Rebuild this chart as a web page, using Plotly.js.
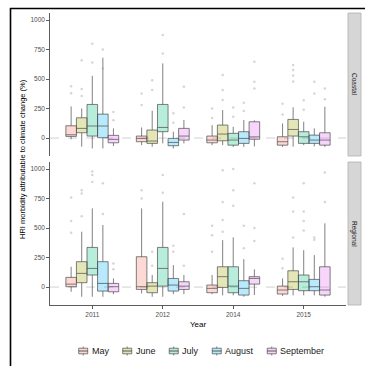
<!DOCTYPE html>
<html>
<head>
<meta charset="utf-8">
<script src="https://cdn.plot.ly/plotly-3.0.1.min.js"></script>
<style>html,body{margin:0;padding:0;background:#fff;}#chart{width:365px;height:366px;}</style>
</head>
<body>
<div id="chart"></div>
<script>
// ---- data ----
const years = ['2011', '2012', '2014', '2015'];
const months = ['May', 'June', 'July', 'August', 'September'];
const panels = ['Coastal', 'Regional'];
const monthFill = ['rgba(248,118,109,0.28)', 'rgba(163,165,0,0.28)', 'rgba(0,191,125,0.28)', 'rgba(0,176,246,0.28)', 'rgba(231,107,243,0.28)'];

// Coastal: rows = months, cols = years
const coastalLow  = [[-10,-60,-60,-75],[-73,-73,-60,-73],[-88,-45,-75,-60],[-88,-88,-75,-70],[-68,-45,-70,-75]];
const coastalQ1   = [[14,-31,-40,-60],[45,-45,-23,17],[17,54,-60,-45],[3,-65,-45,-45],[-40,-17,-10,-60]];
const coastalMed  = [[28,-3,-17,-31],[82,-25,34,73],[102,90,-17,11],[102,-37,-3,-17],[-11,17,10,-17]];
const coastalQ3   = [[104,17,17,11],[172,68,110,158],[285,285,40,54],[203,-3,54,25],[23,82,138,45]];
const coastalHigh = [[268,90,110,124],[251,232,237,260],[528,633,96,138],[681,54,153,82],[82,153,150,265]];
const coastalOut  = [
  [[380,440],[280,378],[170,250],[200,290]],
  [[356,415,660],[407,490],[322,407,534],[480,530,576,620]],
  [[640,800],[717,873],[180,260],[240,320]],
  [[590,750],[130,210],[230,300],[378,477]],
  [[150,220],[260,435],[421,477,647],[330,420]]
];

// Regional
const regionalLow  = [[-40,-54,-60,-75],[-82,-82,-70,-70],[-82,-82,-70,-70],[-82,-60,-82,-70],[-60,-60,-68,-82]];
const regionalQ1   = [[3,-20,-48,-59],[37,-48,-3,-20],[102,8,-48,-31],[-34,-34,-68,-31],[-40,-20,25,-68]];
const regionalMed  = [[25,3,-11,-25],[116,8,88,45],[158,158,8,45],[31,17,-11,3],[3,8,73,-25]];
const regionalQ3   = [[82,257,17,8],[215,37,172,138],[336,336,172,102],[215,73,54,65],[31,45,88,172]];
const regionalHigh = [[172,667,102,73],[469,102,398,336],[667,723,421,313],[526,186,237,271],[73,102,150,540]];
const regionalOut  = [
  [[460,560,760],[750,820],[300,440,520],[160,240]],
  [[600,794,820],[180,300],[468,568,720,990],[420,640,760]],
  [[890,950,980],[800,950],[690,820,1000],[480,560,640,880]],
  [[620,880],[300,350],[330,520],[400,420]],
  [[150,200],[180,620],[390,500,880],[720,970]]
];

const yTicks = [0, 250, 500, 750, 1000];

// ---- layout geometry ----
const W = 365, H = 366, ML = 50, MR = 19, MT = 13, MB = 61;
const PW = W - ML - MR, PH = H - MT - MB;
const px = v => (v - ML) / PW;
const py = v => (MT + PH - v) / PH;
const dodge = 0.15;
const FONT = 'Liberation Sans, Arial, sans-serif';
const LINE = '#4a4a4a';

const panelData = [
  {low: coastalLow, q1: coastalQ1, med: coastalMed, q3: coastalQ3, high: coastalHigh, out: coastalOut, ya: 'y'},
  {low: regionalLow, q1: regionalQ1, med: regionalMed, q3: regionalQ3, high: regionalHigh, out: regionalOut, ya: 'y2'}
];

const traces = [];
panelData.forEach((pd, p) => {
  months.forEach((m, mi) => {
    const xs = years.map((y, i) => i + 1 + (mi - 2) * dodge);
    const ox = [], oy = [];
    pd.out[mi].forEach((arr, yi) => arr.forEach(v => { ox.push(xs[yi]); oy.push(v); }));
    traces.push({
      type: 'scatter', mode: 'markers', xaxis: 'x', yaxis: pd.ya,
      x: ox, y: oy, marker: {size: 2.5, color: 'rgba(150,150,150,0.4)'},
      showlegend: false, hoverinfo: 'skip'
    });
    traces.push({
      type: 'box', orientation: 'v', xaxis: 'x', yaxis: pd.ya,
      x: xs, q1: pd.q1[mi], median: pd.med[mi], q3: pd.q3[mi],
      lowerfence: pd.low[mi], upperfence: pd.high[mi],
      width: dodge, whiskerwidth: 0, boxpoints: false,
      fillcolor: monthFill[mi], line: {color: LINE, width: 0.7},
      name: m, showlegend: false, hoverinfo: 'skip'
    });
  });
});

const yAxisBase = {
  range: [-152, 1060], tickvals: yTicks, ticktext: yTicks.map(String),
  showgrid: false, zeroline: false, showline: true, linecolor: '#333', linewidth: 0.8,
  ticks: 'outside', ticklen: 3, tickcolor: '#333', tickwidth: 0.8,
  tickfont: {size: 6.5, color: '#4d4d4d', family: FONT}, anchor: 'x', fixedrange: true
};

const shapes = [];
const annotations = [];
// dashed zero lines
['y', 'y2'].forEach(ya => {
  shapes.push({type: 'line', xref: 'x domain', yref: ya, x0: 0, x1: 1, y0: 0, y1: 0,
    line: {color: '#bdbdbd', width: 0.7, dash: 'dash'}, layer: 'below'});
});
// facet strips
const stripY = [[13, 156], [162, 305]];
panels.forEach((name, i) => {
  shapes.push({type: 'rect', xref: 'paper', yref: 'paper', x0: px(348), x1: px(361),
    y0: py(stripY[i][1]), y1: py(stripY[i][0]), fillcolor: '#d6d6d6', line: {color: '#b0b0b0', width: 0.8}});
  annotations.push({xref: 'paper', yref: 'paper', x: px(354.5), y: py((stripY[i][0] + stripY[i][1]) / 2),
    text: name, showarrow: false, textangle: 90, font: {size: 6.5, color: '#1a1a1a', family: FONT},
    xanchor: 'center', yanchor: 'middle'});
});
// outer frame (left and top)
shapes.push({type: 'line', xref: 'paper', yref: 'paper', x0: px(10.5), x1: px(10.5), y0: py(8), y1: py(366), line: {color: '#000', width: 1.6}});
shapes.push({type: 'line', xref: 'paper', yref: 'paper', x0: px(10), x1: px(365), y0: py(8.5), y1: py(8.5), line: {color: '#000', width: 1.6}});

// y-axis title
annotations.push({xref: 'paper', yref: 'paper', x: px(22), y: py(159),
  text: 'HRI morbidity attributable to climate change (%)', showarrow: false, textangle: -90,
  font: {size: 7.5, color: '#000', family: FONT}, xanchor: 'center', yanchor: 'middle'});

// legend (drawn manually, ggplot-style keys)
const legFont = 9;
const ctx = document.createElement('canvas').getContext('2d');
ctx.font = legFont + 'px Liberation Sans';
const keyW = 9, keyGap = 3, itemGap = 15;
const widths = months.map(m => ctx.measureText(m).width);
const total = months.reduce((s, m, i) => s + keyW + keyGap + widths[i], 0) + itemGap * (months.length - 1);
let cx = 201 - total / 2;
const ly = 351;
months.forEach((m, i) => {
  const x0 = cx, x1 = cx + keyW, xm = (x0 + x1) / 2;
  shapes.push({type: 'line', xref: 'paper', yref: 'paper', x0: px(xm), x1: px(xm), y0: py(ly - 4.5), y1: py(ly + 4.5), line: {color: LINE, width: 0.7}});
  shapes.push({type: 'rect', xref: 'paper', yref: 'paper', x0: px(x0), x1: px(x1), y0: py(ly + 2.8), y1: py(ly - 2.8), fillcolor: 'rgba(255,255,255,1)', line: {width: 0}});
  shapes.push({type: 'rect', xref: 'paper', yref: 'paper', x0: px(x0), x1: px(x1), y0: py(ly + 2.8), y1: py(ly - 2.8), fillcolor: monthFill[i], line: {color: LINE, width: 0.7}});
  shapes.push({type: 'line', xref: 'paper', yref: 'paper', x0: px(x0), x1: px(x1), y0: py(ly), y1: py(ly), line: {color: LINE, width: 0.9}});
  annotations.push({xref: 'paper', yref: 'paper', x: px(x1 + keyGap), y: py(ly), text: m, showarrow: false,
    xanchor: 'left', yanchor: 'middle', font: {size: legFont, color: '#1a1a1a', family: FONT}, borderpad: 0});
  cx = x1 + keyGap + widths[i] + itemGap;
});

const layout = {
  width: W, height: H,
  margin: {l: ML, r: MR, t: MT, b: MB, pad: 0},
  paper_bgcolor: '#fff', plot_bgcolor: 'rgba(0,0,0,0)',
  showlegend: false,
  font: {family: FONT},
  xaxis: {
    range: [0.4, 4.6], tickvals: [1, 2, 3, 4], ticktext: years, anchor: 'y2',
    showgrid: false, zeroline: false, showline: true, linecolor: '#333', linewidth: 0.8,
    ticks: 'outside', ticklen: 3, tickcolor: '#333', tickwidth: 0.8,
    tickfont: {size: 6.5, color: '#4d4d4d', family: FONT},
    title: {text: 'Year', font: {size: 8, color: '#000', family: FONT}, standoff: 4}, fixedrange: true
  },
  yaxis: Object.assign({}, yAxisBase, {domain: [py(156), 1]}),
  yaxis2: Object.assign({}, yAxisBase, {domain: [0, py(162)]}),
  shapes: shapes,
  annotations: annotations
};

Plotly.newPlot('chart', traces, layout, {displayModeBar: false, staticPlot: true});
</script>
</body>
</html>
